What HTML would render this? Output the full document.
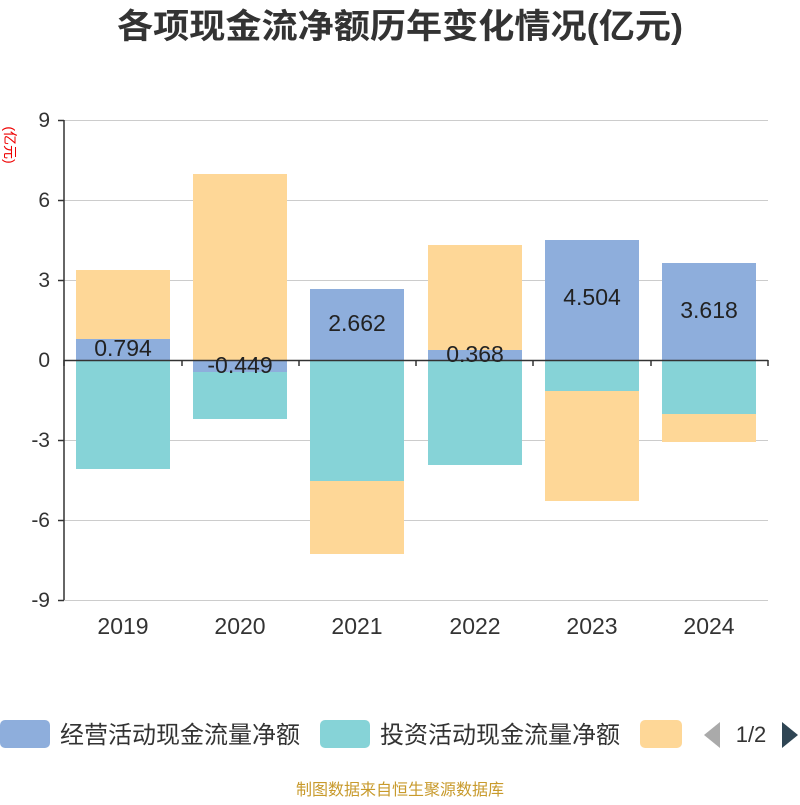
<!DOCTYPE html>
<html><head><meta charset="utf-8"><style>body{margin:0;background:#fff}</style></head><body>
<svg width="800" height="800" xmlns="http://www.w3.org/2000/svg" font-family="'Liberation Sans','Noto Sans CJK SC',sans-serif">
<rect width="800" height="800" fill="#fff"/>
<text x="400" y="38" text-anchor="middle" font-size="34" font-weight="bold" fill="#333" textLength="566" lengthAdjust="spacingAndGlyphs">各项现金流净额历年变化情况(亿元)</text>
<text x="5" y="145" font-size="14" fill="#e00" transform="rotate(90 5 145)" text-anchor="middle">(亿元)</text>
<g stroke="#ccc" stroke-width="1">
<line x1="64" x2="768" y1="120.5" y2="120.5"/><line x1="64" x2="768" y1="200.5" y2="200.5"/><line x1="64" x2="768" y1="280.5" y2="280.5"/><line x1="64" x2="768" y1="440.5" y2="440.5"/><line x1="64" x2="768" y1="520.5" y2="520.5"/><line x1="64" x2="768" y1="600.5" y2="600.5"/>
</g>
<g font-size="21" fill="#333" text-anchor="end">
<text x="50" y="127">9</text><text x="50" y="207">6</text><text x="50" y="287">3</text><text x="50" y="367">0</text><text x="50" y="447">-3</text><text x="50" y="527">-6</text><text x="50" y="607">-9</text>
</g>
<g>
<rect x="76" y="270" width="94" height="69" fill="#fed797"/><rect x="76" y="339" width="94" height="21" fill="#8eaedc"/><rect x="76" y="360" width="94" height="109" fill="#86d3d7"/>
<rect x="193" y="174" width="94" height="186" fill="#fed797"/><rect x="193" y="360" width="94" height="12" fill="#8eaedc"/><rect x="193" y="372" width="94" height="47" fill="#86d3d7"/>
<rect x="310" y="289" width="94" height="71" fill="#8eaedc"/><rect x="310" y="360" width="94" height="121" fill="#86d3d7"/><rect x="310" y="481" width="94" height="73" fill="#fed797"/>
<rect x="428" y="245" width="94" height="105" fill="#fed797"/><rect x="428" y="350" width="94" height="10" fill="#8eaedc"/><rect x="428" y="360" width="94" height="105" fill="#86d3d7"/>
<rect x="545" y="240" width="94" height="120" fill="#8eaedc"/><rect x="545" y="360" width="94" height="31" fill="#86d3d7"/><rect x="545" y="391" width="94" height="110" fill="#fed797"/>
<rect x="662" y="263" width="94" height="97" fill="#8eaedc"/><rect x="662" y="360" width="94" height="54" fill="#86d3d7"/><rect x="662" y="414" width="94" height="28" fill="#fed797"/>
</g>
<g stroke="#333" stroke-width="1.5">
<line x1="64" x2="64" y1="120" y2="600"/><line x1="64" x2="768" y1="360.5" y2="360.5"/>
<line x1="64" x2="64" y1="360" y2="366"/><line x1="182" x2="182" y1="360" y2="366"/><line x1="299" x2="299" y1="360" y2="366"/><line x1="416" x2="416" y1="360" y2="366"/><line x1="533" x2="533" y1="360" y2="366"/><line x1="651" x2="651" y1="360" y2="366"/><line x1="768" x2="768" y1="360" y2="366"/>
<line x1="58" x2="64" y1="120.5" y2="120.5"/><line x1="58" x2="64" y1="200.5" y2="200.5"/><line x1="58" x2="64" y1="280.5" y2="280.5"/><line x1="58" x2="64" y1="440.5" y2="440.5"/><line x1="58" x2="64" y1="520.5" y2="520.5"/><line x1="58" x2="64" y1="600.5" y2="600.5"/>
</g>
<g font-size="23" fill="#222" text-anchor="middle">
<text x="123" y="356">0.794</text><text x="240" y="373">-0.449</text><text x="357" y="331">2.662</text><text x="475" y="362">0.368</text><text x="592" y="305">4.504</text><text x="709" y="318">3.618</text>
</g>
<g font-size="23" fill="#333" text-anchor="middle">
<text x="123" y="634">2019</text><text x="240" y="634">2020</text><text x="357" y="634">2021</text><text x="475" y="634">2022</text><text x="592" y="634">2023</text><text x="709" y="634">2024</text>
</g>
<rect x="0" y="720" width="50" height="28" rx="5" fill="#8eaedc"/>
<text x="60" y="743" font-size="24" fill="#333">经营活动现金流量净额</text>
<rect x="320" y="720" width="50" height="28" rx="5" fill="#86d3d7"/>
<text x="380" y="743" font-size="24" fill="#333">投资活动现金流量净额</text>
<rect x="640" y="720" width="42" height="28" rx="5" fill="#fed797"/>
<polygon points="720,722 720,748 704,735" fill="#aaa"/>
<text x="751" y="742" font-size="22" fill="#333" text-anchor="middle">1/2</text>
<polygon points="782,722 782,748 798,735" fill="#2f4554"/>
<text x="400" y="795" font-size="16" fill="#c89a2c" text-anchor="middle">制图数据来自恒生聚源数据库</text>
</svg>
</body></html>
